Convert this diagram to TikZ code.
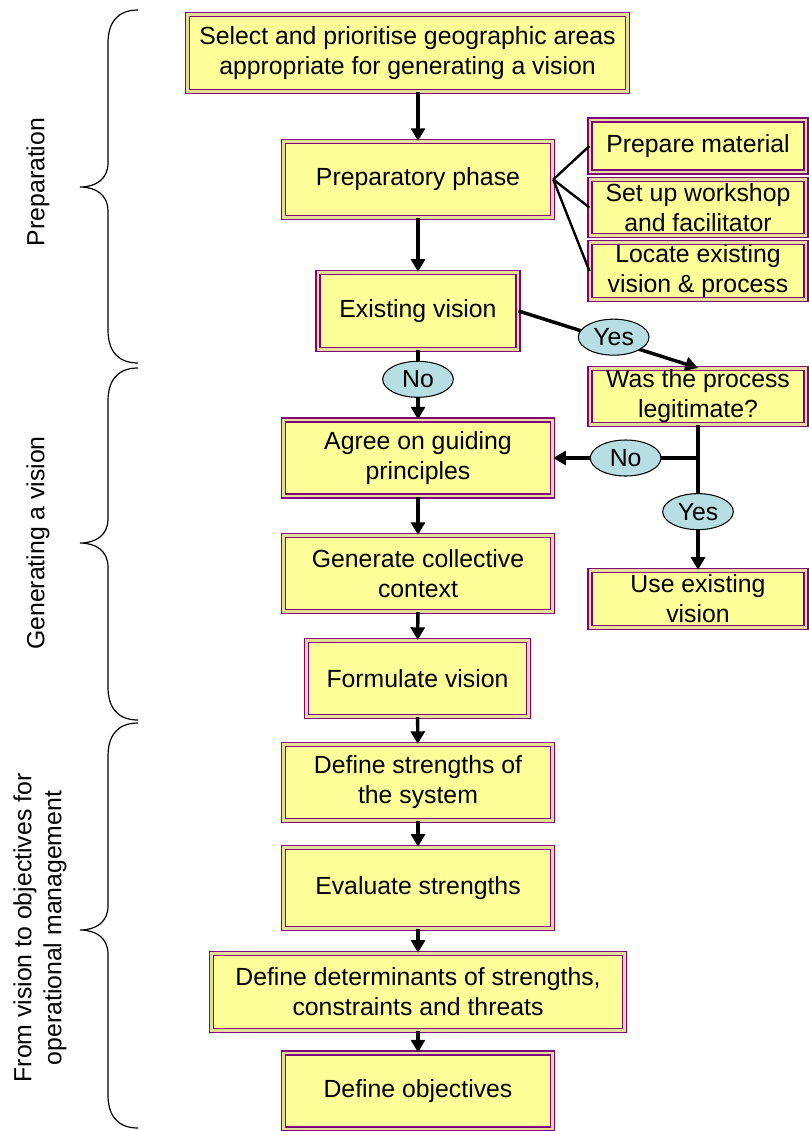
\documentclass[tikz,border=0pt]{standalone}
\usepackage{fontspec}
\setmainfont{Liberation Sans}
\usetikzlibrary{arrows.meta,shapes.geometric}
\definecolor{boxfill}{RGB}{255,255,153}
\definecolor{boxline}{RGB}{128,0,128}
\definecolor{boxbevel}{RGB}{228,222,150}
\definecolor{lblfill}{RGB}{183,222,227}
\tikzset{
  stepbox/.style={draw=boxline, line width=0.85pt, double=boxbevel, double distance=2.2pt,
    fill=boxfill, align=center, inner sep=0pt, font=\fontsize{18.6}{22.5}\selectfont},
  answer/.style={ellipse, draw=black, line width=0.8pt, fill=lblfill, minimum width=53pt,
    minimum height=27pt, inner sep=0pt, font=\fontsize{18.6}{22.5}\selectfont},
  phase/.style={rotate=90, align=center, font=\fontsize{18.6}{22.5}\selectfont},
  arr/.style={line width=2.6pt, -{Triangle[width=10.5pt,length=9.5pt]}},
  link/.style={line width=1.8pt}
}
% brace: top end, tip, bottom end
\newcommand{\phasebrace}[3]{%
\draw[line width=0.9pt] (138,#1) .. controls (118,#1) and (108,#1+12) .. (108,#1+33)
 -- (108,#2-24) .. controls (108,#2-8) and (96,#2) .. (80,#2)
 .. controls (96,#2) and (108,#2+8) .. (108,#2+24)
 -- (108,#3-33) .. controls (108,#3-12) and (118,#3) .. (138,#3);}
\begin{document}
\begin{tikzpicture}[x=0.75pt,y=-0.75pt]
\useasboundingbox (0,0) rectangle (808,1131);
% main column
\node[stepbox, minimum width=330pt, minimum height=58pt] (select) at (407.5,53) {Select and prioritise geographic areas\\appropriate for generating a vision};
\node[stepbox, minimum width=202pt, minimum height=57pt] (prep) at (418,179.5) {Preparatory phase};
\node[stepbox, minimum width=150pt, minimum height=58pt] (exist) at (418,311) {Existing vision};
\node[stepbox, minimum width=202pt, minimum height=57pt] (agree) at (418,458) {Agree on guiding\\principles};
\node[stepbox, minimum width=202pt, minimum height=57pt] (collect) at (418,573.5) {Generate collective\\context};
\node[stepbox, minimum width=167pt, minimum height=57pt] (formul) at (417.5,678.5) {Formulate vision};
\node[stepbox, minimum width=202pt, minimum height=57pt] (strength) at (418,782.5) {Define strengths of\\the system};
\node[stepbox, minimum width=202pt, minimum height=61pt] (evalu) at (418,888) {Evaluate strengths};
\node[stepbox, minimum width=310pt, minimum height=58pt] (determ) at (418,992) {Define determinants of strengths,\\constraints and threats};
\node[stepbox, minimum width=202pt, minimum height=57pt] (object) at (418,1091) {Define objectives};
% side column
\node[stepbox, minimum width=162pt, minimum height=39pt] (material) at (698,146) {Prepare material};
\node[stepbox, minimum width=162pt, minimum height=42pt] (workshop) at (698,207.5) {Set up workshop\\and facilitator};
\node[stepbox, minimum width=162pt, minimum height=43pt] (locate) at (698,271) {Locate existing\\vision \& process};
\node[stepbox, minimum width=162pt, minimum height=42pt] (legit) at (698,396.5) {Was the process\\legitimate?};
\node[stepbox, minimum width=162pt, minimum height=43pt] (useold) at (698,599) {Use existing\\vision};
% connectors
\draw[arr] (select.south -| prep.north) -- (prep.north);
\draw[arr] (prep) -- (exist);
\draw[link] (prep.east) -- (material.west);
\draw[link] (prep.east) -- (workshop.west);
\draw[link] (prep.east) -- (locate.west);
\draw[arr] (exist) -- node[answer, pos=0.42] (no1) {No} (agree);
\draw[arr] (exist.east) -- node[answer, pos=0.53, yshift=3pt] (yes1) {Yes} (legit.north);
\coordinate (junc) at (legit.south |- agree.east);
\draw[link, line width=2.6pt] (legit.south) -- (junc);
\draw[arr] (junc) -- node[answer, pos=0.5] (no2) {No} (agree.east);
\draw[arr] (junc) -- node[answer, pos=0.48] (yes2) {Yes} (useold.north);
\draw[arr] (agree) -- (collect);
\draw[arr] (collect) -- (formul);
\draw[arr] (formul) -- (strength);
\draw[arr] (strength) -- (evalu);
\draw[arr] (evalu) -- (determ);
\draw[arr] (determ) -- (object);
% phases
\phasebrace{10}{187}{363}
\phasebrace{368}{543}{720}
\phasebrace{723}{930}{1128}
\node[phase] (ph1) at (38,182) {Preparation};
\node[phase] (ph2) at (38,543) {Generating a vision};
\node[phase] (ph3) at (40,928) {From vision to objectives for\\operational management};
\end{tikzpicture}
\end{document}
